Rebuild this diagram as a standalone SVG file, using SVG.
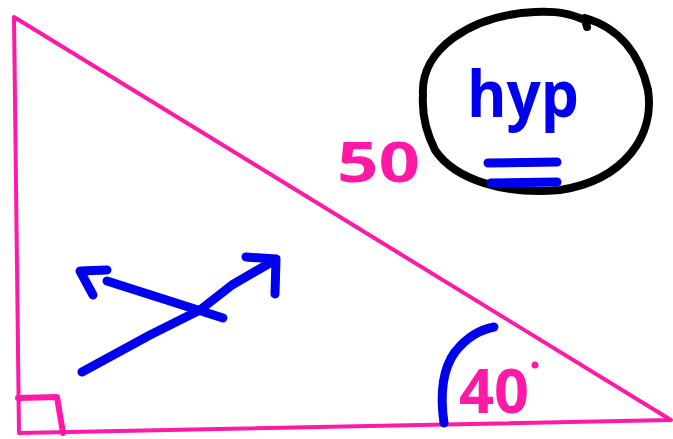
<svg xmlns="http://www.w3.org/2000/svg" width="673" height="439" viewBox="0 0 673 439">
<style>
.pink{stroke:#ff19a6;fill:none;stroke-linecap:round;stroke-linejoin:round}
.blue{stroke:#0000ee;fill:none;stroke-width:9;stroke-linecap:round;stroke-linejoin:round}
.lbl{font-family:"Open Sans","Liberation Sans",sans-serif;font-weight:bold}
</style>
<rect width="673" height="439" fill="#fff"/>
<g id="triangle">
<path class="pink" stroke-width="4" d="M14 17 L19 433 L671 420 Z"/>
<path class="pink" stroke-width="6" d="M18 398 L57 397 L63 433"/>
</g>
<g id="arrows">
<path class="blue" d="M82 372 L150 335 L200 310 L232 285 L275 260"/>
<path class="blue" d="M246 257 L276 259 L275 294"/>
<path class="blue" d="M223 318 L107 281"/>
<path class="blue" d="M107 270 L80 271 L93 295"/>
</g>
<g id="hyp">
<path d="M423 95 C420 50 470 15 535 12 C560 11 570 14 585 20 L587 27 L585 18 C620 28 640 55 648 90 C655 135 625 180 560 190 C505 195 455 180 435 150 C425 130 422 110 423 95 Z" fill="none" stroke="#000" stroke-width="8" stroke-linejoin="round"/>
<text class="lbl" x="467" y="117" font-size="64" fill="#0000ee" textLength="112" lengthAdjust="spacingAndGlyphs">hyp</text>
<path class="blue" d="M488 163 L557 162"/>
<path class="blue" d="M491 183 L557 182"/>
</g>
<g id="labels">
<text class="lbl" x="337" y="182" font-size="55" fill="#ff19a6" textLength="83" lengthAdjust="spacingAndGlyphs">50</text>
<path class="blue" d="M444 423 C440 395 442 370 455 352 C468 336 480 330 494 327"/>
<text class="lbl" x="459" y="413" font-size="60" fill="#ff19a6" textLength="70" lengthAdjust="spacingAndGlyphs">40</text>
<circle cx="535" cy="365" r="3.5" fill="#ff19a6"/>
</g>
</svg>
